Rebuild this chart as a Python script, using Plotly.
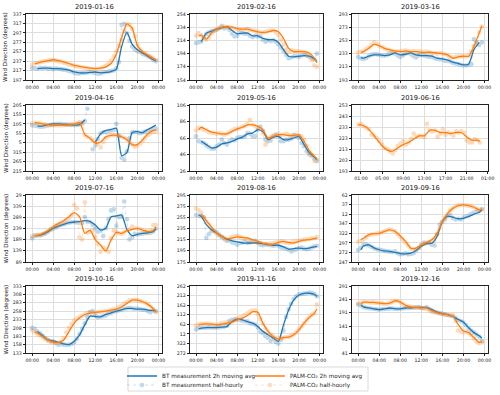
import plotly.graph_objects as go

W, H = 500, 395
HH = [i * 0.5 for i in range(48)]
LINE_T = [0.5] + list(range(1, 24)) + [23.5]

XT_STD = [0, 4, 8, 12, 16, 20, 24]
XL_STD = ["00:00", "04:00", "08:00", "12:00", "16:00", "20:00", "00:00"]
XT_0616 = [1, 5, 9, 13, 17, 21, 25]
XL_0616 = ["01:00", "05:00", "09:00", "13:00", "17:00", "21:00", "01:00"]

# ---------------- 2019-01-16
Y_0116 = [197, 217, 237, 257, 277, 297, 317, 337]
BT_AVG_0116 = [None, 221, 222, 222, 221, 221, 220, 218, 214, 212, 212, 213, 214, 212, 213, 215, 220, 268, 298, 273, 261, 254, 247, 240, 238]
PALM_AVG_0116 = [231, 233, 236, 238, 240, 238, 235, 232, 228, 226, 224, 222, 221, 222, 225, 232, 252, 287, 316, 307, 270, 257, 250, 243, 240]
BT_HH_0116 = [222, 222, 221, 223, 222, 223, 221, 222, 220, 222, 221, 220, 219, 218, 216, 215, 212, 211, 211, 212, 212, 213, 214, 213,
              212, 210, 211, 213, 214, 215, 216, 217, 222, 235, 314, 316, 296, 280, 268, 262, 258, 256, 252, 250, 247, 244, 240, 237]
PALM_HH_0116 = [229, 232, 233, 235, 236, 237, 238, 239, 240, 238, 237, 236, 234, 232, 230, 229, 227, 226, 225, 224, 223, 222, 221, 220,
                220, 221, 222, 224, 227, 231, 238, 247, 258, 270, 282, 300, 314, 315, 305, 290, 272, 262, 256, 253, 250, 247, 243, 240]

# ---------------- 2019-02-16
Y_0216 = [154, 174, 194, 214, 234, 254]
BT_AVG_0216 = [None, 212, 225, 228, 231, 233, 235, 229, 224, 225, 225, 221, 221, 217, 215, 215, 211, 200, 190, 189, 190, 191, 190, 186, 182]
PALM_AVG_0216 = [221, 222, 216, 225, 231, 234, 235, 234, 232, 231, 231, 229, 227, 226, 227, 229, 227, 217, 202, 197, 197, 197, 195, 187, 180]
BT_HH_0216 = [210, 211, 212, 218, 224, 226, 228, 229, 230, 232, 236, 232, 234, 230, 224, 220, 221, 226, 225, 224, 224, 221, 219, 221,
              220, 220, 215, 212, 214, 213, 214, 212, 208, 203, 198, 192, 187, 188, 190, 190, 189, 191, 192, 191, 189, 187, 185, 194]
PALM_HH_0216 = [221, 225, 222, 218, 215, 218, 224, 228, 231, 233, 234, 235, 234, 234, 233, 232, 231, 231, 230, 231, 232, 230, 229, 228,
                227, 226, 226, 227, 228, 229, 229, 226, 222, 215, 208, 200, 196, 199, 198, 198, 197, 197, 196, 194, 190, 184, 176, 174]

# ---------------- 2019-03-16
Y_0316 = [193, 213, 233, 253, 273, 293]
BT_AVG_0316 = [227, 226, 229, 231, 231, 230, 231, 234, 231, 232, 234, 231, 230, 230, 229, 226, 225, 223, 220, 218, 216, 217, 239, 250, None]
PALM_AVG_0316 = [235, 236, 241, 247, 245, 241, 239, 237, 236, 237, 236, 236, 235, 235, 235, 234, 233, 231, 226, 228, 229, 229, 244, 264, 275]
BT_HH_0316 = [228, 226, 225, 226, 229, 231, 232, 232, 231, 230, 230, 231, 233, 234, 233, 230, 228, 230, 233, 234, 232, 229, 227, 230,
              231, 230, 229, 228, 228, 226, 225, 224, 224, 222, 222, 221, 219, 218, 217, 216, 215, 215, 216, 217, 255, 250, 246, 250]
PALM_HH_0316 = [235, 236, 236, 240, 242, 246, 250, 248, 245, 243, 241, 239, 238, 237, 236, 236, 237, 237, 238, 237, 236, 237, 236, 236,
                236, 235, 236, 235, 234, 234, 233, 234, 233, 232, 230, 228, 227, 228, 229, 229, 229, 229, 230, 236, 244, 250, 265, 274]

# ---------------- 2019-04-16
Y_0416 = [-145, -95, -45, 5, 55, 105, 155, 205]
BT_AVG_0416 = [None, 93, 93, 101, 105, 105, 102, 101, 98, 101, 125, None, 8, 52, 70, 75, 82, -63, -48, 59, 64, 59, 75, 90, 98]
PALM_AVG_0416 = [112, 110, 105, 100, 97, 97, 98, 100, 103, 112, 48, 29, 3, 9, 36, 44, 44, 36, 21, -5, -5, 21, 52, 70, 72]
BT_HH_0416 = [97, 95, 92, 90, 90, 93, 96, 99, 102, 104, 105, 105, 103, 101, 100, 99, 98, 99, 101, 110, 120, 185, None, -30,
              -10, 25, 55, 62, 62, 68, 70, 72, 105, 40, -75, -85, -40, 30, 60, 62, 60, 55, 60, 65, 70, 72, 78, 80]
PALM_HH_0416 = [108, 110, 108, 106, 104, 102, 100, 98, 97, 96, 97, 97, 98, 99, 100, 102, 104, 108, 115, 105, 45, 35, 30, 20,
                10, 0, -20, 10, 30, 40, 45, 44, 45, 42, 38, 30, 22, 10, -5, -15, -10, 0, 15, 30, 45, 55, 62, 65]

# ---------------- 2019-05-16
Y_0516 = [26, 46, 66, 86, 106]
BT_AVG_0516 = [None, 62, 58, 54, 55, 59, 60, 62, 65, 67, 71, 72, 76, 74, 64, 67, 68, 64, 64, 66, 68, 58, 48, 43, 40]
PALM_AVG_0516 = [76, 79, 76, 73, 72, 71, 71, 74, 77, 79, 82, 82, 80, 76, 66, 68, 70, 70, 69, 69, 70, 62, 51, 44, 41]
BT_HH_0516 = [68, 62, 61, 60, 57, 55, 53, 53, 56, 58, 64, 60, 58, 62, 64, 63, 66, 67, 67, 68, 72, 71, 68, 68,
              76, 80, 75, 64, 62, 63, 68, 70, 68, 62, 62, 64, 64, 65, 70, 68, 66, 60, 56, 50, 46, 45, 41, 38]
PALM_HH_0516 = [75, 78, 78, 76, 75, 73, 72, 72, 71, 72, 71, 70, 71, 73, 75, 77, 77, 78, 80, 81, 83, 88, 82, 80,
                79, 77, 72, 58, 65, 67, 69, 70, 71, 70, 70, 71, 70, 69, 69, 70, 69, 68, 64, 56, 48, 44, 38, 40]

# ---------------- 2019-06-16 (PALM only)
Y_0616 = [193, 203, 213, 223, 233, 243, 253]
PALM_AVG_0616 = [235, 235, 233, 228, 222, 216, 212, 211, 214, 217, 219, 222, 225, 225, 230, 230, 228, 228, 227, 228, 228, 224, 221, 221, 220]
PALM_HH_0616 = [None, 235, 236, 234, 232, 231, 226, 225, 223, 220, 217, 214, 213, 211, 209, 212, 216, 218, 220, 217, 219, 222, 227, 224,
                225, 225, 224, 236, 230, 229, 230, 224, 227, 231, 226, 228, 227, 225, 229, 228, 229, 228, 221, 219, 219, 222, 221, 219]

# ---------------- 2019-07-16
Y_0716 = [89, 139, 189, 239, 289, 339, 389]
BT_AVG_0716 = [207, 207, 213, 225, 240, 250, 258, 265, 268, 270, 274, 270, 255, 232, 240, 292, 295, 299, 235, 207, 213, 217, 220, 225, 237]
PALM_AVG_0716 = [207, 207, 217, 229, 247, 262, 274, 292, 310, 292, 217, 232, 188, 165, 138, 188, 222, 217, 229, 235, 240, 232, 225, 229, 247]
BT_HH_0716 = [195, 207, 210, 208, 212, 216, 224, 232, 238, 244, 250, 255, 258, 262, 265, 267, 268, 266, 265, 264, 290, 270, 268, 255,
              240, 225, 230, 205, 240, 280, 320, 325, 250, 290, 292, 360, 280, 190, 200, 215, 212, 214, 216, 218, 219, 220, 226, 238]
PALM_HH_0716 = [205, 207, 208, 210, 214, 220, 228, 236, 244, 252, 258, 264, 270, 278, 285, 300, 345, 330, 200, 190, 356, 220, 225, 230,
                200, 170, 135, 155, 145, 135, 195, 230, 225, 218, 215, 222, 230, 235, 248, 240, 238, 236, 230, 228, 224, 230, 255, 256]

# ---------------- 2019-08-16
Y_0816 = [175, 195, 215, 235, 255, 275, 295]
BT_AVG_0816 = [259, 257, 242, 233, 227, 221, 216, 213, 211, 209, 209, 209, 209, 208, 206, 205, 205, 202, 198, 199, 200, 199, 200, 202, 203]
PALM_AVG_0816 = [None, 261, 249, 238, 227, 221, 217, 218, 220, 219, 218, 215, 212, 209, 207, 207, 210, 212, 210, 209, 212, 214, 215, 217, 218]
BT_HH_0816 = [259, 258, 257, 255, 218, 225, 230, 230, 228, 224, 220, 216, 213, 213, 210, 209, 206, 209, 210, 211, 209, 210, 212, 213,
              210, 206, 205, 207, 206, 205, 204, 205, 204, 201, 200, 199, 197, 194, 196, 198, 200, 201, 199, 198, 199, 201, 203, 204]
PALM_HH_0816 = [271, 268, 264, 255, 248, 242, 235, 230, 226, 222, 220, 218, 215, 217, 220, 221, 222, 220, 219, 217, 215, 214, 212, 211,
                210, 209, 208, 207, 207, 208, 209, 210, 211, 212, 211, 210, 209, 210, 211, 212, 213, 214, 215, 216, 216, 217, 218, 220]

# ---------------- 2019-09-16
Y_0916 = [247, 272, 297, 322, 347, 372, 397, 422]
BT_AVG_0916 = [279, 289, 292, 284, 279, 276, 275, 272, 269, 268, 270, 277, 288, 295, 296, 314, 353, 367, 364, 360, 361, 366, 372, 377, 383]
PALM_AVG_0916 = [305, 309, 318, 321, 322, 327, 331, 327, 315, 301, 283, 283, 292, 298, 305, 322, 353, 374, 387, 394, 396, 394, 390, 383, 385]
BT_HH_0916 = [278, 284, 292, 293, 290, 287, 283, 280, 279, 278, 276, 275, 274, 273, 275, 270, 267, 268, 270, 267, 268, 270, 277, 283,
              292, 298, 296, 297, 292, 290, 320, 345, 352, 358, 366, 370, 362, 358, 360, 358, 363, 366, 368, 373, 376, 378, 380, 384]
PALM_HH_0916 = [300, 302, 305, 312, 317, 319, 320, 321, 322, 325, 328, 330, 332, 330, 327, 320, 312, 305, 298, 290, 282, 280, 281, 285,
                290, 294, 298, 300, 303, 308, 318, 335, 352, 363, 372, 382, 388, 392, 395, 396, 396, 395, 394, 393, 390, 386, 383, 386]

# ---------------- 2019-10-16
Y_1016 = [133, 158, 183, 208, 233, 258, 283, 308, 333]
BT_AVG_1016 = [None, 197, 185, 172, 169, 165, 160, 158, 168, 187, 217, 243, 242, 241, 248, 253, 258, 262, 266, 266, 264, 264, 261, 260, 258]
PALM_AVG_1016 = [195, 192, 182, 172, 165, 165, 172, 197, 222, 238, 248, 252, 254, 256, 258, 261, 264, 271, 281, 291, 291, 286, 278, 266, 258]
BT_HH_1016 = [208, 205, 198, 192, 185, 178, 172, 168, 168, 163, 158, 160, 158, 157, 158, 160, 165, 175, 190, 205, 222, 240, 255, 258,
              245, 240, 241, 243, 245, 250, 252, 256, 258, 260, 262, 265, 266, 268, 266, 265, 266, 264, 262, 262, 258, 255, 259, 258]
PALM_HH_1016 = [200, 195, 190, 185, 180, 175, 170, 166, 164, 163, 164, 168, 178, 195, 208, 220, 230, 236, 240, 244, 248, 252, 255, 254,
                253, 255, 256, 257, 258, 260, 262, 264, 266, 270, 274, 280, 285, 290, 292, 292, 290, 288, 286, 283, 278, 272, 264, 255]

# ---------------- 2019-11-16
Y_1116 = [272, 322, 372, 422, 472, 522, 572, 622]
BT_AVG_1116 = [398, 402, 405, 405, 405, 407, 410, 436, 449, 445, 436, 428, 410, 385, 367, 350, 333, 419, 497, 549, 575, 584, 584, 579, 567]
PALM_AVG_1116 = [419, 423, 424, 423, 419, 423, 428, 433, 445, 454, 468, 488, 485, 428, 385, 358, 345, 353, 355, 367, 393, 428, 457, 480, 502]
BT_HH_1116 = [395, 402, 403, 404, 404, 406, 405, 404, 406, 405, 408, 410, 415, 440, 445, 448, 446, 444, 440, 438, 437, 428, 425, 420,
              405, 385, 375, 360, 350, 335, 345, 330, 320, 340, 390, 460, 500, 530, 555, 570, 578, 580, 582, 585, 588, 586, 580, 568]
PALM_HH_1116 = [415, 420, 425, 424, 426, 424, 422, 420, 420, 422, 428, 430, 432, 432, 438, 445, 452, 458, 462, 470, 480, 490, 495, 492,
                475, 450, 425, 400, 385, 370, 360, 352, 348, 350, 352, 354, 356, 362, 370, 380, 395, 410, 428, 445, 460, 472, 480, 525]

# ---------------- 2019-12-16
Y_1216 = [41, 91, 141, 191, 241, 291]
BT_AVG_1216 = [219, 213, 209, 206, 203, 206, 209, 206, 206, 209, 209, 211, 211, 211, 203, 194, 188, 184, 178, 166, 157, 135, 117, 105, 96]
PALM_AVG_1216 = [225, 231, 230, 230, 227, 225, 227, 236, 231, 219, 213, 211, 209, 209, 199, 191, 187, 184, 178, 148, 123, 117, 99, 80, 84]
BT_HH_1216 = [222, 218, 212, 210, 208, 207, 205, 204, 203, 204, 205, 206, 207, 207, 206, 205, 206, 207, 208, 209, 210, 210, 211, 212,
              210, 208, 212, 206, 200, 196, 193, 190, 187, 185, 183, 181, 178, 172, 165, 160, 155, 145, 133, 125, 118, 110, 102, 85]
PALM_HH_1216 = [225, 228, 230, 231, 230, 229, 230, 228, 227, 226, 224, 225, 228, 232, 236, 235, 230, 224, 218, 215, 213, 212, 211, 210,
                209, 208, 207, 200, 195, 192, 190, 188, 186, 184, 182, 180, 182, 160, 125, 120, 118, 120, 115, 108, 95, 82, 78, 80]

PANELS = [
    ("2019-01-16", BT_AVG_0116, BT_HH_0116, PALM_AVG_0116, PALM_HH_0116, Y_0116, XT_STD, XL_STD),
    ("2019-02-16", BT_AVG_0216, BT_HH_0216, PALM_AVG_0216, PALM_HH_0216, Y_0216, XT_STD, XL_STD),
    ("2019-03-16", BT_AVG_0316, BT_HH_0316, PALM_AVG_0316, PALM_HH_0316, Y_0316, XT_STD, XL_STD),
    ("2019-04-16", BT_AVG_0416, BT_HH_0416, PALM_AVG_0416, PALM_HH_0416, Y_0416, XT_STD, XL_STD),
    ("2019-05-16", BT_AVG_0516, BT_HH_0516, PALM_AVG_0516, PALM_HH_0516, Y_0516, XT_STD, XL_STD),
    ("2019-06-16", None, None, PALM_AVG_0616, PALM_HH_0616, Y_0616, XT_0616, XL_0616),
    ("2019-07-16", BT_AVG_0716, BT_HH_0716, PALM_AVG_0716, PALM_HH_0716, Y_0716, XT_STD, XL_STD),
    ("2019-08-16", BT_AVG_0816, BT_HH_0816, PALM_AVG_0816, PALM_HH_0816, Y_0816, XT_STD, XL_STD),
    ("2019-09-16", BT_AVG_0916, BT_HH_0916, PALM_AVG_0916, PALM_HH_0916, Y_0916, XT_STD, XL_STD),
    ("2019-10-16", BT_AVG_1016, BT_HH_1016, PALM_AVG_1016, PALM_HH_1016, Y_1016, XT_STD, XL_STD),
    ("2019-11-16", BT_AVG_1116, BT_HH_1116, PALM_AVG_1116, PALM_HH_1116, Y_1116, XT_STD, XL_STD),
    ("2019-12-16", BT_AVG_1216, BT_HH_1216, PALM_AVG_1216, PALM_HH_1216, Y_1216, XT_STD, XL_STD),
]

BLUE = "#1f77b4"
ORANGE = "#ff7f0e"
FONT = "DejaVu Sans"
COL_X = [(26, 162), (190, 323), (352, 488)]
ROW_Y = [(14, 80), (105, 171), (195, 262), (286, 353)]

fig = go.Figure()
layout = dict(width=W, height=H, margin=dict(l=0, r=0, t=0, b=0, autoexpand=False), autosize=False,
              paper_bgcolor="white", plot_bgcolor="white",
              font=dict(family=FONT, color="#222"))
annotations = []
shown = set()

for i, (title, bt_avg, bt_hh, pa_avg, pa_hh, yt, xt, xl) in enumerate(PANELS):
    r, c = divmod(i, 3)
    n = i + 1
    xa = "x" if n == 1 else f"x{n}"
    ya = "y" if n == 1 else f"y{n}"
    x0, x1 = COL_X[c]
    t0, t1 = ROW_Y[r]
    xr = [-0.7, 25.05] if xt is XT_0616 else [-1.175, 24.675]
    axcommon = dict(showline=True, mirror=True, linecolor="#222", linewidth=0.8,
                    showgrid=True, gridcolor="#dedede", gridwidth=0.8, zeroline=False,
                    ticks="outside", ticklen=2.5, tickwidth=0.6, tickcolor="#222",
                    tickfont=dict(size=4.7, family=FONT, color="#222"))
    layout["xaxis" if n == 1 else f"xaxis{n}"] = dict(
        axcommon, domain=[x0 / W, x1 / W], anchor=ya, range=xr,
        tickmode="array", tickvals=xt, ticktext=xl)
    layout["yaxis" if n == 1 else f"yaxis{n}"] = dict(
        axcommon, domain=[1 - t1 / H, 1 - t0 / H], anchor=xa, range=[yt[0], yt[-1]],
        tickmode="array", tickvals=yt, ticktext=[str(int(v) % 360) for v in yt])

    series = []
    if bt_avg is not None:
        series.append(("BT measurement 2h moving avg", "avg", LINE_T, bt_avg, BLUE, "legend"))
        series.append(("BT measurement half-hourly", "hh", HH, bt_hh, BLUE, "legend2"))
    series.append(("PALM-CO₂ 2h moving avg", "avg", LINE_T, pa_avg, ORANGE, "legend3"))
    series.append(("PALM-CO₂ half-hourly", "hh", HH, pa_hh, ORANGE, "legend4"))
    for name, kind, xs, ys, col, lg in series:
        show = name not in shown
        shown.add(name)
        if kind == "avg":
            fig.add_trace(go.Scatter(x=xs, y=ys, mode="lines", name=name, legend=lg,
                                     line=dict(color=col, width=1.3, shape="spline", smoothing=0.6),
                                     xaxis=xa, yaxis=ya, showlegend=show))
        else:
            fig.add_trace(go.Scatter(x=xs, y=ys, mode="lines+markers", name=name, legend=lg,
                                     line=dict(color=col, width=0.8, dash="dot"),
                                     marker=dict(color=col, size=4.6),
                                     opacity=0.28, xaxis=xa, yaxis=ya, showlegend=show))

    annotations.append(dict(text=title, x=(x0 + x1) / 2 / W, y=1 - (t0 - 7) / H,
                            xref="paper", yref="paper", showarrow=False,
                            xanchor="center", yanchor="middle",
                            font=dict(size=6.7, family=FONT, color="#111")))
    if c == 0:
        annotations.append(dict(text="Wind Direction (degrees)", x=6 / W, y=1 - (t0 + t1) / 2 / H,
                                xref="paper", yref="paper", showarrow=False, textangle=-90,
                                xanchor="center", yanchor="middle",
                                font=dict(size=5.6, family=FONT, color="#111")))

leg = dict(orientation="v", xanchor="left", yanchor="middle", bgcolor="rgba(0,0,0,0)",
           borderwidth=0, font=dict(size=5.7, family=FONT, color="#222"))
layout["legend"] = dict(leg, x=122 / W, y=1 - 376 / H)
layout["legend2"] = dict(leg, x=122 / W, y=1 - 385 / H)
layout["legend3"] = dict(leg, x=250 / W, y=1 - 376 / H)
layout["legend4"] = dict(leg, x=250 / W, y=1 - 385 / H)
layout["annotations"] = annotations
layout["shapes"] = [dict(type="rect", xref="paper", yref="paper",
                         x0=128 / W, x1=368 / W, y0=1 - 391 / H, y1=1 - 367 / H,
                         line=dict(color="#d0d0d0", width=0.8), fillcolor="rgba(255,255,255,0)",
                         layer="below")]
fig.update_layout(**layout)
fig.write_html("out.html")
